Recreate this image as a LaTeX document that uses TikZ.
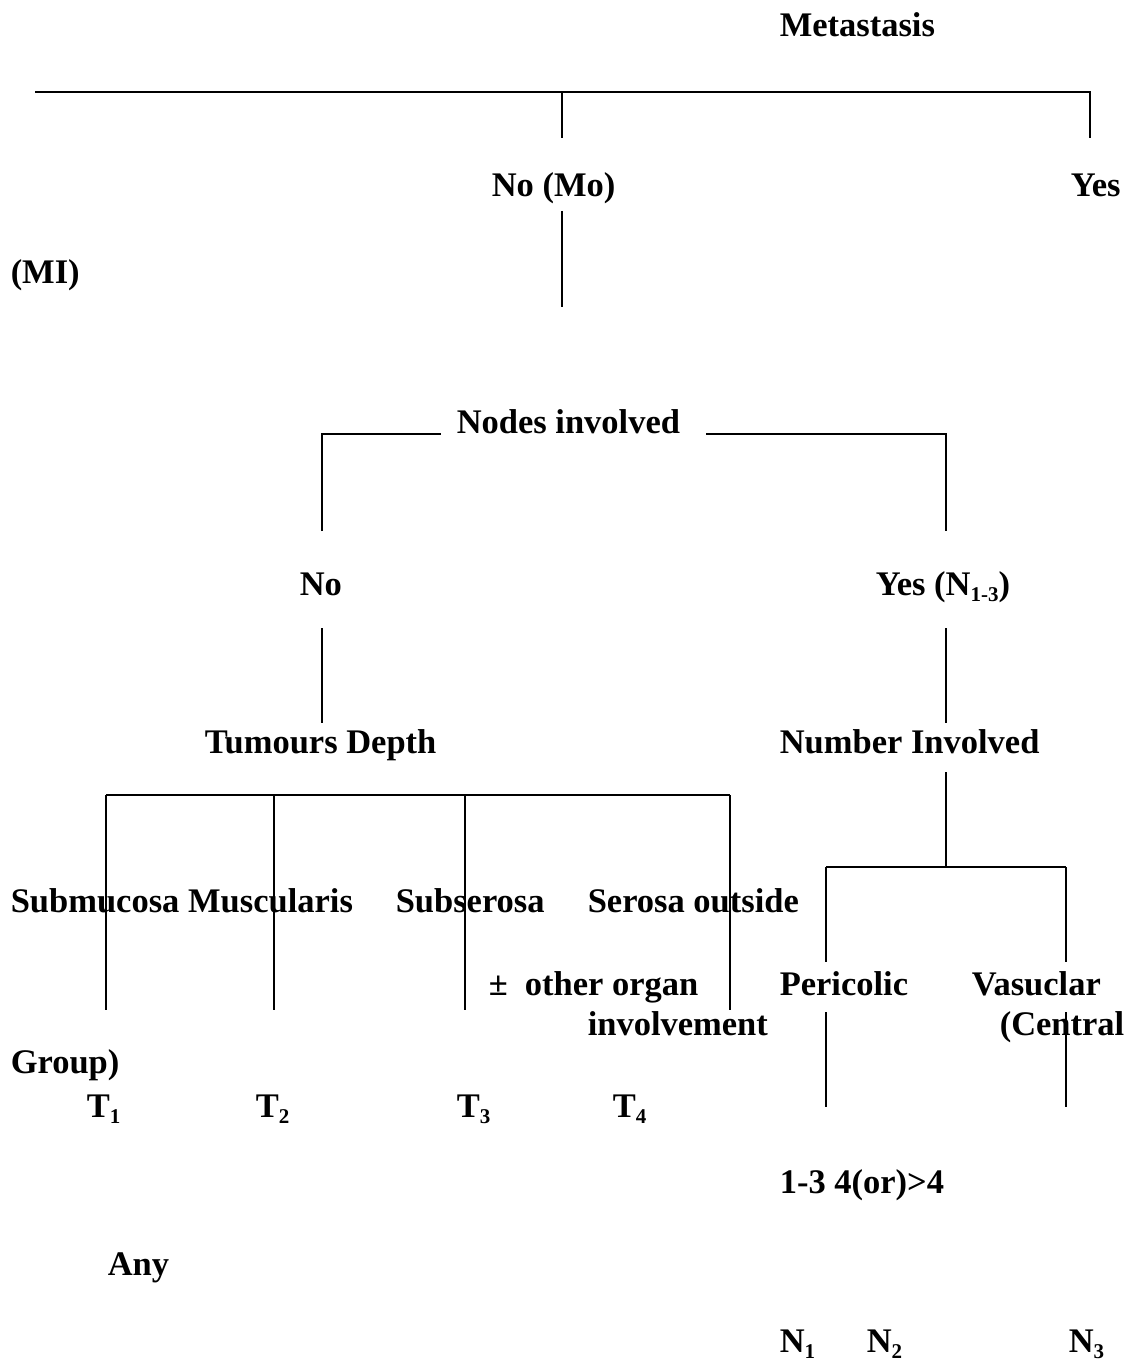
\documentclass[tikz,border=0pt]{standalone}
\usepackage{fontspec}
\setmainfont{Liberation Serif}
\usetikzlibrary{calc}

\tikzset{lbl/.style={inner sep=0pt,font=\fontsize{34.5}{40}\selectfont\bfseries}}
\newcommand{\lowidx}[1]{\raisebox{-0.18em}{\fontsize{21}{21}\selectfont #1}}

\begin{document}
\begin{tikzpicture} [x=1pt,y=-1pt,line width=1.5pt]
\useasboundingbox (0,0) rectangle (1131,1364);

% metastasis
\coordinate (A) at (35,92);
\coordinate (B) at (562,92);
\coordinate (C) at (1090,92);
\coordinate (B1) at (562,138);
\coordinate (C1) at (1090,138);
\coordinate (D) at (562,211);
\coordinate (D1) at (562,307);

\draw[black] (A)--(C)--(C1);
\draw[black] (B)--(B1);
\draw[black] (D)--(D1);

% nodes involved
\coordinate (E) at (322,531);
\coordinate (E1) at (322,434);
\coordinate (E2) at (441,434);
\coordinate (F) at (706,434);
\coordinate (F1) at (946,434);
\coordinate (F2) at (946,531);

\draw[black] (E)--(E1)--(E2);
\draw[black] (F)--(F1)--(F2);
\draw[black] (322,628)--(322,723);
\draw[black] (946,628)--(946,723);

% tumours depth
\coordinate (G1) at (106,795);
\coordinate (G2) at (274,795);
\coordinate (G3) at (465,795);
\coordinate (G4) at (730,795);

\draw[black] (G1)--(G4);
\draw[black] (G1)--(106,1010);
\draw[black] (G2)--(274,1010);
\draw[black] (G3)--(465,1010);
\draw[black] (G4)--(730,1010);

% number involved
\coordinate (H) at (946,772);
\coordinate (H1) at (946,867);
\coordinate (P) at (826,867);
\coordinate (V) at (1066,867);

\draw[black] (H)--(H1);
\draw[black] (P)--(V);
\draw[black] (P)--(826,962);
\draw[black] (V)--(1066,962);
\draw[black] (826,1012)--(826,1107);
\draw[black] (1066,1012)--(1066,1107);

\node (meta) at (779,37) [lbl,anchor=base west] {Metastasis};
\node (nomo) at (491,197) [lbl,anchor=base west] {No (Mo)};
\node (yes) at (1070,197) [lbl,anchor=base west] {Yes};
\node (mi) at (10,283) [lbl,anchor=base west] {(MI)};
\node (nodes) at (456,433) [lbl,anchor=base west] {Nodes involved};
\node (no) at (299,595) [lbl,anchor=base west] {No};
\node (yesn) at (875,595) [lbl,anchor=base west] {Yes (N\lowidx{1-3})};
\node (depth) at (204,753) [lbl,anchor=base west] {Tumours Depth};
\node (number) at (779,753) [lbl,anchor=base west] {Number Involved};
\node (submu) at (10,912) [lbl,anchor=base west] {Submucosa Muscularis};
\node (subser) at (395,912) [lbl,anchor=base west] {Subserosa};
\node (serosa) at (587,912) [lbl,anchor=base west] {Serosa outside};
\node (other) at (488,995) [lbl,anchor=base west] {±\,\,\,other organ};
\node (involv) at (587,1035) [lbl,anchor=base west] {involvement};
\node (peri) at (779,995) [lbl,anchor=base west] {Pericolic};
\node (vasc) at (971,995) [lbl,anchor=base west] {Vasuclar};
\node (central) at (999,1035) [lbl,anchor=base west] {(Central};
\node (group) at (10,1073) [lbl,anchor=base west] {Group)};
\node (t1) at (86,1117) [lbl,anchor=base west] {T\lowidx{1}};
\node (t2) at (255,1117) [lbl,anchor=base west] {T\lowidx{2}};
\node (t3) at (456,1117) [lbl,anchor=base west] {T\lowidx{3}};
\node (t4) at (612,1117) [lbl,anchor=base west] {T\lowidx{4}};
\node (counts) at (779,1193) [lbl,anchor=base west] {1-3 4(or)>4};
\node (any) at (107,1275) [lbl,anchor=base west] {Any};
\node (n1) at (779,1352) [lbl,anchor=base west] {N\lowidx{1}};
\node (n2) at (866,1352) [lbl,anchor=base west] {N\lowidx{2}};
\node (n3) at (1068,1352) [lbl,anchor=base west] {N\lowidx{3}};

\end{tikzpicture}
\end{document}
